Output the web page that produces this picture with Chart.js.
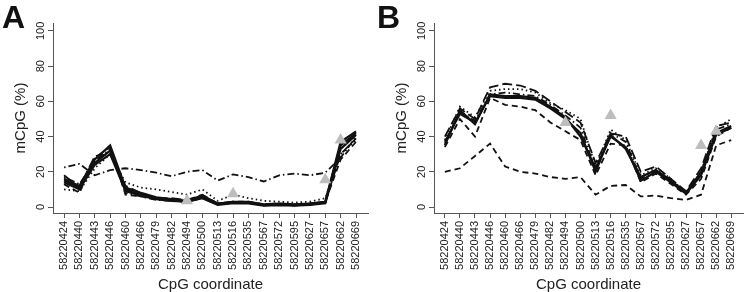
<!DOCTYPE html>
<html>
<head>
<meta charset="utf-8">
<script src="https://cdn.jsdelivr.net/npm/chart.js@4/dist/chart.umd.min.js"></script>
<style>
    body { margin: 0; background: #fff; }
    #wrap { position: relative; width: 750px; height: 292px; overflow: hidden; }
    .panel { position: absolute; top: 0; }
    .tag { position: absolute; top: 1px; font: bold 32px/32px "Liberation Sans", Arial, sans-serif; color: #111; }
</style>
</head>
<body>
<div id="wrap">
    <canvas id="chartA" class="panel" style="left:0" width="375" height="292"></canvas>
    <canvas id="chartB" class="panel" style="left:375px" width="375" height="292"></canvas>
    <div class="tag" style="left:2px">A</div>
    <div class="tag" style="left:377px">B</div>
</div>
<script>
// CpG positions on the x axis
const cpgLabels = [
    "58220424", "58220440", "58220443", "58220446", "58220460",
    "58220466", "58220479", "58220482", "58220494", "58220500",
    "58220513", "58220516", "58220535", "58220567", "58220572",
    "58220595", "58220627", "58220657", "58220662", "58220669",
];
const yTicks = [0, 20, 40, 60, 80, 100];

// Panel A samples (mCpG %)
const a1 = [15, 11, 25, 32, 10, 7, 5, 4, 3, 5.5, 1.5, 2.5, 2.5, 1, 1.5, 1, 1.5, 2.5, 35, 42];
const a2 = [16, 12, 27, 35, 11, 8, 5.5, 4.5, 3.5, 6.5, 2, 3, 3, 1.5, 2, 1.5, 2, 3, 37, 43];
const a3 = [14, 10, 24, 30, 9, 6.5, 4.5, 3.5, 3, 5, 1.2, 2.2, 2, 0.8, 1, 0.8, 1.2, 2.2, 33, 41];
const a4 = [13, 8, 28, 34, 7, 6, 4.5, 3.5, 3, 6, 2, 3, 3, 1.5, 1.5, 1.5, 2, 3, 27, 37];
const a5 = [18, 11, 29, 30, 12, 8, 5, 5, 4, 7, 2, 3, 2.5, 1.5, 2, 1.5, 2, 3, 30, 39];
const a6 = [10, 9, 22, 30, 14, 11, 10, 8.5, 7, 10, 3.5, 7, 5, 3.5, 3, 2.5, 3, 5, 30, 38];
const a7 = [22.5, 24.5, 18, 21, 22, 21, 19.5, 17.5, 20, 21, 15, 18.5, 17, 14.5, 18, 19, 18, 19.5, 28, 40];
const a8 = [17, 13, 26, 33, 8, 6, 4, 3.5, 3, 5, 1.5, 2.5, 2.5, 1, 1.5, 1, 1.5, 2.5, 36, 40];
const aTriX = [8, 11, 17, 18];
const aTriY = [3.5, 7.5, 15.5, 38];

// Panel B samples (mCpG %)
const b1 = [37, 53, 48, 63, 62, 62, 61, 56, 50, 42, 20, 41, 33, 17, 21, 15, 8, 20, 42, 46];
const b2 = [35, 55, 47, 64, 63, 63, 62, 57, 51, 40, 22, 40, 34, 15, 20, 14, 7.5, 18, 41, 45];
const b3 = [40, 56, 50, 68, 70, 69, 66, 60, 54, 48, 25, 42, 40, 20, 23, 16, 9, 22, 46, 48];
const b4 = [34, 50, 40, 62, 58, 57, 55, 48, 43, 38, 18, 36, 35, 14, 19, 13, 7, 16, 40, 45];
const b5 = [38, 57, 51, 66, 67, 67, 65, 59, 55, 50, 23, 44, 38, 18, 22, 16, 8, 20, 45, 50];
const b6 = [36, 54, 49, 64, 65, 64, 63, 58, 52, 45, 21, 42, 37, 16, 21, 15, 8, 19, 44, 47];
const b7 = [20, 22, 29, 36, 23, 20, 19, 17, 16, 17, 7, 12, 12.5, 6, 6.5, 5, 4, 7, 35, 38];
const bTriX = [8, 11, 17, 18];
const bTriY = [48, 52, 35, 43];

const SOLID = [];
const DASH = [6, 4];
const LONGDASH = [10, 4];
const DOT = [1.5, 3];
const DOTDASH = [1.5, 3, 7, 3];

const toPoints = (vals) => vals.map((v, i) => ({ x: i, y: v }));

function lineSet(vals, dash) {
    return {
        type: "line",
        data: toPoints(vals),
        borderColor: "#111",
        borderWidth: dash.length ? 1.8 : 2.2,
        borderDash: dash,
        pointRadius: 0,
        tension: 0,
    };
}

function triangleSet(xs, ys) {
    return {
        type: "scatter",
        data: xs.map((x, i) => ({ x: x, y: ys[i] })),
        pointStyle: "triangle",
        pointRadius: 7,
        backgroundColor: "#bdbdbd",
        borderColor: "#bdbdbd",
        borderWidth: 0,
    };
}

const axisColor = "#555";
const tickFont = { family: "'Liberation Sans', Arial, sans-serif", size: 11 };
const titleFont = { family: "'Liberation Sans', Arial, sans-serif", size: 15, lineHeight: 1 };

function panelOptions(padLeft, padRight) {
    return {
        responsive: false,
        animation: false,
        layout: { padding: { left: padLeft, right: padRight, top: 23, bottom: 0 } },
        plugins: { legend: { display: false }, tooltip: { enabled: false } },
        scales: {
            x: {
                type: "linear",
                min: -0.72,
                max: 19.78,
                afterBuildTicks: (axis) => {
                    axis.ticks = cpgLabels.map((l, i) => ({ value: i }));
                },
                afterFit: (axis) => {
                    axis.height = 79;
                },
                ticks: {
                    autoSkip: false,
                    minRotation: 90,
                    maxRotation: 90,
                    padding: 3,
                    color: "#222",
                    font: tickFont,
                    callback: (value) => cpgLabels[value],
                },
                grid: { display: true, drawOnChartArea: false, tickLength: 5, color: axisColor },
                border: { display: true, color: axisColor },
                title: { display: true, text: "CpG coordinate", color: "#222", font: titleFont, padding: 0 },
            },
            y: {
                min: -3.4,
                max: 104.5,
                afterBuildTicks: (axis) => {
                    axis.ticks = yTicks.map((v) => ({ value: v }));
                },
                afterFit: (axis) => {
                    axis.width = 53;
                },
                ticks: {
                    minRotation: 90,
                    maxRotation: 90,
                    crossAlign: "center",
                    padding: -2,
                    color: "#222",
                    font: tickFont,
                },
                grid: { display: true, drawOnChartArea: false, tickLength: 5, color: axisColor },
                border: { display: true, color: axisColor },
                title: { display: true, text: "mCpG (%)", color: "#222", font: titleFont, padding: { top: 13 } },
            },
        },
    };
}

const chartA = new Chart(document.getElementById("chartA"), {
    type: "line",
    data: {
        datasets: [
            triangleSet(aTriX, aTriY),
            lineSet(a1, SOLID),
            lineSet(a2, SOLID),
            lineSet(a3, SOLID),
            lineSet(a4, DASH),
            lineSet(a5, LONGDASH),
            lineSet(a6, DOT),
            lineSet(a7, DOTDASH),
            lineSet(a8, DOTDASH),
        ],
    },
    options: panelOptions(0, 7),
});

const chartB = new Chart(document.getElementById("chartB"), {
    type: "line",
    data: {
        datasets: [
            triangleSet(bTriX, bTriY),
            lineSet(b1, SOLID),
            lineSet(b2, SOLID),
            lineSet(b3, LONGDASH),
            lineSet(b4, DASH),
            lineSet(b5, DOT),
            lineSet(b6, DOTDASH),
            lineSet(b7, DASH),
        ],
    },
    options: panelOptions(6, 0),
});
</script>
</body>
</html>
